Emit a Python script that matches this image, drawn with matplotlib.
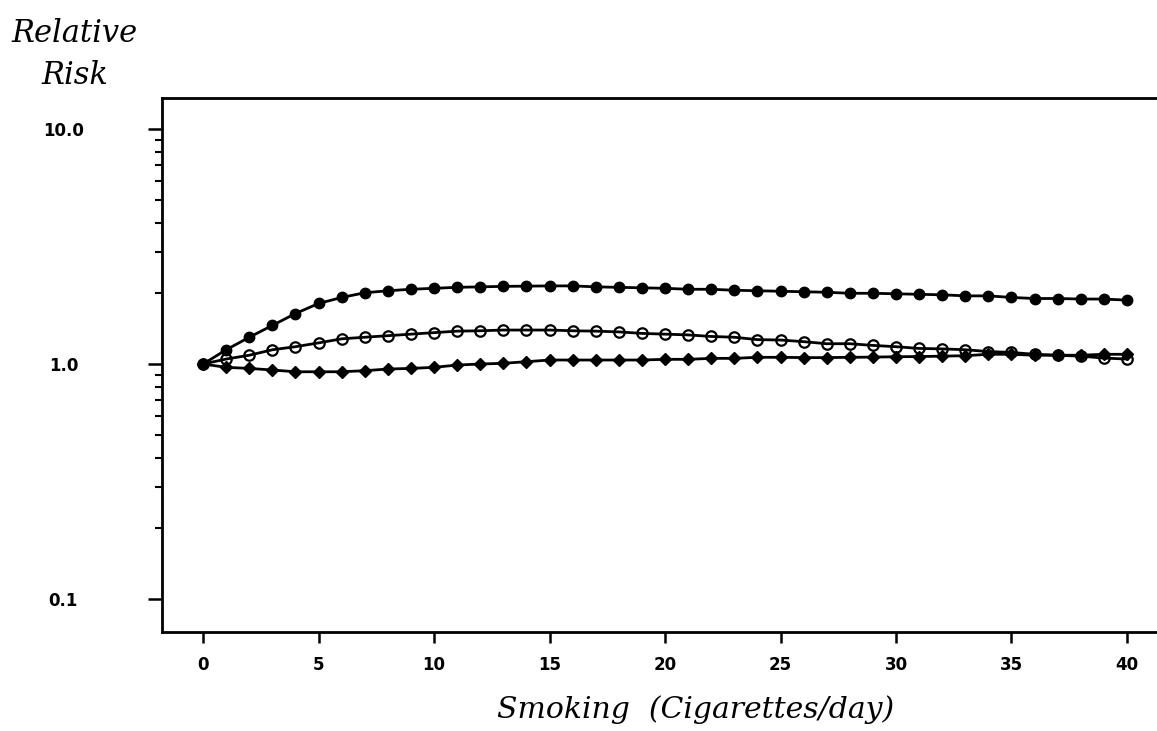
import matplotlib
matplotlib.use('Agg')
import matplotlib.pyplot as plt
from matplotlib.ticker import FixedLocator, NullFormatter
import numpy as np

# cigarettes per day
dose = list(range(0, 41))

# relative risk, filled circles
rr_filled = [1.00, 1.15, 1.30, 1.46, 1.64, 1.81, 1.92, 2.01, 2.05, 2.08,
             2.10, 2.12, 2.13, 2.14, 2.145, 2.15, 2.15, 2.13, 2.12, 2.11,
             2.10, 2.08, 2.08, 2.06, 2.05, 2.04, 2.03, 2.02, 2.00, 2.00,
             1.99, 1.98, 1.97, 1.95, 1.95, 1.92, 1.90, 1.90, 1.89, 1.89,
             1.87]

# relative risk, open circles
rr_open = [1.00, 1.05, 1.09, 1.15, 1.185, 1.23, 1.28, 1.30, 1.32, 1.34,
           1.36, 1.38, 1.385, 1.395, 1.395, 1.395, 1.385, 1.38, 1.37, 1.35,
           1.34, 1.33, 1.31, 1.30, 1.27, 1.265, 1.245, 1.22, 1.22, 1.20,
           1.185, 1.165, 1.16, 1.15, 1.13, 1.12, 1.10, 1.09, 1.08, 1.06,
           1.05]

# relative risk, diamonds
rr_diamond = [1.00, 0.968, 0.958, 0.943, 0.927, 0.927, 0.927, 0.937, 0.952, 0.958,
              0.968, 0.99, 1.0, 1.007, 1.023, 1.04, 1.04, 1.04, 1.04, 1.04,
              1.047, 1.047, 1.057, 1.057, 1.068, 1.068, 1.065, 1.065, 1.068, 1.07,
              1.074, 1.076, 1.08, 1.085, 1.10, 1.10, 1.09, 1.09, 1.09, 1.10,
              1.10]

xticks = [0, 5, 10, 15, 20, 25, 30, 35, 40]
yticks = [0.1, 1.0, 10.0]
ytick_labels = ['0.1', '1.0', '10.0']
yminor = [0.2, 0.3, 0.4, 0.5, 0.6, 0.7, 0.8, 0.9, 2, 3, 4, 5, 6, 7, 8, 9]

fig = plt.figure(figsize=(11.57, 7.31), dpi=100)
ax = fig.add_axes([162/1157, 1 - 632/731, 1 - 162/1157, (632 - 98)/731])

ax.plot(dose, rr_filled, '-', color='black', lw=2.0, marker='o', ms=7.5,
        mfc='black', mec='black')
ax.plot(dose, rr_open, '-', color='black', lw=2.0, marker='o', ms=7.5,
        mfc='none', mec='black', mew=1.6)
ax.plot(dose, rr_diamond, '-', color='black', lw=2.0, marker='D', ms=6,
        mfc='black', mec='black')

ax.set_yscale('log')
ax.set_xlim(-1.78, 41.3)
ax.set_ylim(0.0724, 13.55)

ax.spines['right'].set_visible(False)
for s in ['left', 'top', 'bottom']:
    ax.spines[s].set_linewidth(2.0)

ax.xaxis.set_major_locator(FixedLocator(xticks))
ax.yaxis.set_major_locator(FixedLocator(yticks))
ax.yaxis.set_minor_locator(FixedLocator(yminor))
ax.yaxis.set_minor_formatter(NullFormatter())
ax.set_xticklabels([str(t) for t in xticks], fontsize=12, fontweight='bold')
ax.set_yticklabels(ytick_labels, fontsize=12, fontweight='bold', ha='center')
ax.tick_params(axis='x', which='major', direction='out', length=8, width=1.8, pad=9)
ax.tick_params(axis='y', which='major', direction='out', length=10, width=1.8, pad=61)
ax.tick_params(axis='y', which='minor', direction='out', length=5, width=1.5)
ax.tick_params(top=False, right=False)

ax.set_xlabel('Smoking  (Cigarettes/day)', fontsize=21.5, fontstyle='italic',
              family='DejaVu Serif')
ax.xaxis.set_label_coords(0.536, -0.118)
fig.text(75/1157, 1 - 34/731, 'Relative', fontsize=22, fontstyle='italic',
         family='DejaVu Serif', ha='center', va='center')
fig.text(75/1157, 1 - 75/731, 'Risk', fontsize=22, fontstyle='italic',
         family='DejaVu Serif', ha='center', va='center')

plt.savefig('out.png', dpi=100)
plt.close()
